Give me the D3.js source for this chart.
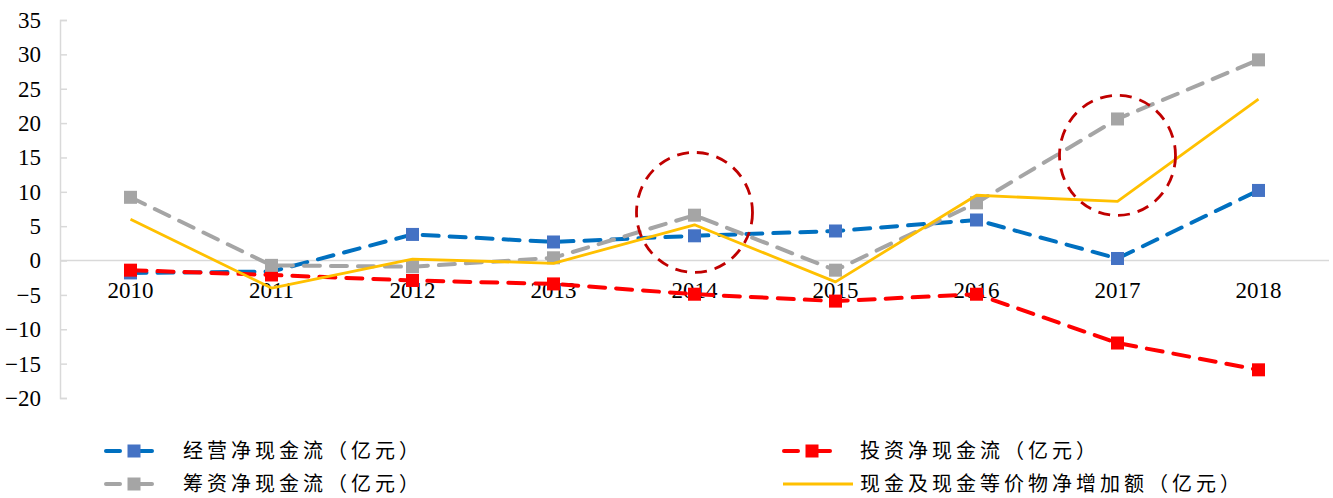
<!DOCTYPE html>
<html>
<head>
<meta charset="utf-8">
<script src="https://cdn.jsdelivr.net/npm/d3@7"></script>
<style>
  html, body { margin: 0; padding: 0; background: #fff; }
  svg { display: block; }
</style>
</head>
<body>
<svg id="chart" width="1333" height="498"></svg>
<script>
// Years on the category axis
const years = ["2010", "2011", "2012", "2013", "2014", "2015", "2016", "2017", "2018"];

// Cash-flow series, 亿元
const operating = [-1.8, -1.6, 3.8, 2.7, 3.6, 4.3, 5.9, 0.3, 10.2];
const investing = [-1.4, -2.1, -2.9, -3.4, -4.9, -5.9, -4.9, -12.0, -15.9];
const financing = [9.2, -0.7, -0.9, 0.4, 6.6, -1.4, 8.4, 20.6, 29.2];
const netChange = [6.0, -4.0, 0.2, -0.4, 5.2, -3.1, 9.5, 8.6, 23.5];

// Y axis ticks
const yTicks = [35, 30, 25, 20, 15, 10, 5, 0, -5, -10, -15, -20];

// Highlighted years (circled)
const highlights = [{ year: "2014", value: 7 }, { year: "2017", value: 15.3 }];

const seriesNames = [
  "经营净现金流（亿元）",
  "投资净现金流（亿元）",
  "筹资净现金流（亿元）",
  "现金及现金等价物净增加额（亿元）"
];

const svg = d3.select("#chart");
const plotLeft = 60, plotRight = 1329, plotTop = 20, plotBottom = 398;

const x = d3.scaleBand().domain(years).range([plotLeft, plotRight]);
const y = d3.scaleLinear().domain([-20, 35]).range([plotBottom, plotTop]);
const cx = d => x(d) + x.bandwidth() / 2;

const serif = "'Liberation Serif', 'Times New Roman', serif";
const cjk = "'Noto Sans CJK SC', sans-serif";
const axisColor = "#d9d9d9";

// Y axis
const yAxis = svg.append("g").attr("transform", `translate(${plotLeft},0)`)
  .call(d3.axisLeft(y).tickValues(yTicks).tickSize(-7).tickFormat(d3.format("d")));
yAxis.select(".domain").attr("stroke", axisColor).attr("stroke-width", 1.5);
yAxis.selectAll(".tick line").attr("stroke", axisColor).attr("stroke-width", 1.5);
yAxis.selectAll(".tick text")
  .attr("font-family", serif).attr("font-size", 23).attr("fill", "#000").attr("x", -19);

// Zero baseline with year labels below it
svg.append("line")
  .attr("x1", plotLeft).attr("x2", plotRight).attr("y1", y(0)).attr("y2", y(0))
  .attr("stroke", axisColor).attr("stroke-width", 1.5);
svg.append("g").selectAll("text").data(years).join("text")
  .attr("x", d => cx(d)).attr("y", y(0) + 37)
  .attr("text-anchor", "middle")
  .attr("font-family", serif).attr("font-size", 23).attr("fill", "#000")
  .text(d => d);

const line = d3.line().x((d, i) => cx(years[i])).y(d => y(d));

const series = [
  { values: operating, stroke: "#0070C0", marker: "#4472C4", dash: "16 11", width: 4 },
  { values: investing, stroke: "#FF0000", marker: "#FF0000", dash: "16 11", width: 4 },
  { values: financing, stroke: "#A5A5A5", marker: "#A5A5A5", dash: "16 11", width: 4 },
  { values: netChange, stroke: "#FFC000", marker: null, dash: null, width: 2.8 }
];

const mk = 13;
series.forEach(s => {
  svg.append("path").datum(s.values)
    .attr("d", line)
    .attr("fill", "none")
    .attr("stroke", s.stroke)
    .attr("stroke-width", s.width)
    .attr("stroke-linecap", s.dash ? "round" : "butt")
    .attr("stroke-linejoin", "round")
    .attr("stroke-dasharray", s.dash);
  if (s.marker) {
    svg.append("g").selectAll("rect").data(s.values).join("rect")
      .attr("x", (d, i) => cx(years[i]) - mk / 2)
      .attr("y", d => y(d) - mk / 2)
      .attr("width", mk).attr("height", mk)
      .attr("fill", s.marker);
  }
});

// Dashed circles around the highlighted years
svg.append("g").selectAll("ellipse").data(highlights).join("ellipse")
  .attr("cx", d => cx(d.year))
  .attr("cy", d => y(d.value))
  .attr("rx", 58).attr("ry", 60)
  .attr("fill", "none")
  .attr("stroke", "#C00000")
  .attr("stroke-width", 2.8)
  .attr("stroke-dasharray", "12 8");

// Legend
const legendItems = [
  { s: series[0], name: seriesNames[0], x: 104, y: 451, tx: 183 },
  { s: series[1], name: seriesNames[1], x: 782, y: 451, tx: 860 },
  { s: series[2], name: seriesNames[2], x: 104, y: 484, tx: 183 },
  { s: series[3], name: seriesNames[3], x: 783, y: 484, tx: 860 }
];
const lg = svg.append("g");
legendItems.forEach(it => {
  if (it.s.marker) {
    lg.append("line")
      .attr("x1", it.x + 2).attr("x2", it.x + 16).attr("y1", it.y).attr("y2", it.y)
      .attr("stroke", it.s.stroke).attr("stroke-width", 4).attr("stroke-linecap", "round");
    lg.append("line")
      .attr("x1", it.x + 36).attr("x2", it.x + 48).attr("y1", it.y).attr("y2", it.y)
      .attr("stroke", it.s.stroke).attr("stroke-width", 4).attr("stroke-linecap", "round");
    lg.append("rect")
      .attr("x", it.x + 30 - mk / 2).attr("y", it.y - mk / 2)
      .attr("width", mk).attr("height", mk).attr("fill", it.s.marker);
  } else {
    lg.append("line")
      .attr("x1", it.x).attr("x2", it.x + 70).attr("y1", it.y).attr("y2", it.y)
      .attr("stroke", it.s.stroke).attr("stroke-width", 3);
  }
  lg.append("text")
    .attr("x", it.tx).attr("y", it.y)
    .attr("dy", "0.34em")
    .attr("font-family", cjk).attr("font-size", 20)
    .attr("letter-spacing", 4)
    .attr("fill", "#000")
    .text(it.name);
});
</script>
</body>
</html>
